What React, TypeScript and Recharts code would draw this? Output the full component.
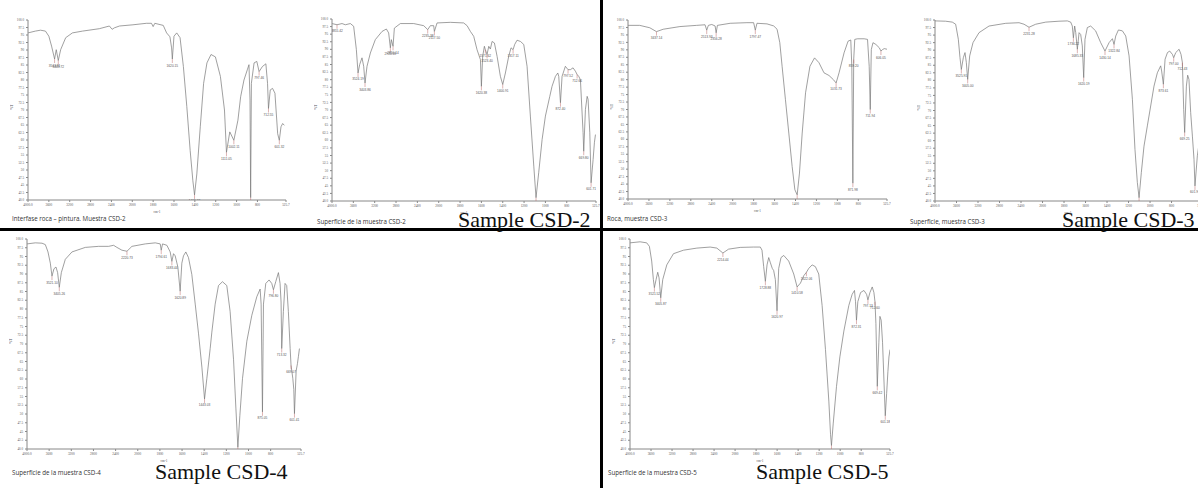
import React from 'react';
import { ComposedChart, Line, Scatter, XAxis, YAxis } from 'recharts';

// ---- axis ticks ----
const xTickWn = [4000, 3600, 3200, 2800, 2400, 2000, 1800, 1600, 1400, 1200, 1000, 800, 526];
const xTickLabels = ['4000.0', '3600', '3200', '2800', '2400', '2000', '1800', '1600', '1400', '1200', '1000', '800', '525.7'];
const yTicks = [40, 42.5, 45, 47.5, 50, 52.5, 55, 57.5, 60, 62.5, 65, 67.5, 70, 72.5, 75, 77.5, 80, 82.5, 85, 87.5, 90, 92.5, 95, 97.5, 100];

// ---- Panel 1: Interfase roca - pintura, CSD-2 ----
const p1Wn = [4000, 3858, 3760, 3665, 3600, 3548, 3490, 3458, 3419, 3374, 3277, 3148, 2955, 2632, 2439, 2387, 2342, 2245, 1994, 1865, 1816, 1800, 1784, 1703, 1671, 1639, 1623, 1616, 1600, 1574, 1542, 1510, 1477, 1445, 1419, 1403, 1381, 1348, 1316, 1284, 1245, 1203, 1155, 1116, 1097, 1065, 1026, 987, 961, 929, 897, 881, 871, 865, 858, 832, 806, 784, 752, 719, 703, 694, 677, 655, 632, 606, 590, 574, 558, 542];
const p1T = [95.7, 96.3, 96.6, 96.3, 94.6, 91.3, 87.0, 90.1, 86.5, 90.1, 94.1, 95.7, 96.3, 97.1, 98.0, 96.9, 97.4, 98.0, 98.4, 98.9, 98.9, 97.8, 98.9, 98.2, 95.7, 94.4, 90.7, 87.0, 94.6, 95.7, 94.1, 84.5, 71.1, 56.5, 46.4, 41.7, 48.7, 64.4, 78.9, 85.7, 88.5, 87.7, 81.2, 70.0, 55.9, 62.7, 59.9, 66.6, 74.4, 80.0, 83.4, 85.1, 73.3, 40.8, 78.9, 85.7, 86.2, 82.8, 84.5, 85.4, 78.9, 70.5, 76.7, 77.2, 75.6, 62.1, 59.9, 64.4, 65.5, 64.9];
const p1PeakWn = [3490, 3419, 1616, 1403, 1097, 1026, 865, 784, 694, 590];
const p1PeakT = [87.0, 86.5, 87.0, 41.7, 55.9, 59.9, 40.8, 82.8, 70.5, 59.9];
const p1PeakLabels = ['3543.81', '3403.72', '1620.15', '1409.92', '1111.05', '1002.11', '872.79', '797.46', '712.55', '601.32'];

// ---- Panel 2: Superficie CSD-2 ----
const p2Wn = [4000, 3906, 3812, 3750, 3656, 3594, 3544, 3512, 3481, 3438, 3406, 3381, 3344, 3281, 3188, 3062, 2981, 2938, 2906, 2888, 2856, 2831, 2719, 2469, 2281, 2206, 2156, 2094, 2081, 2031, 1891, 1766, 1734, 1703, 1672, 1641, 1609, 1600, 1588, 1572, 1563, 1547, 1531, 1516, 1500, 1478, 1453, 1422, 1400, 1375, 1344, 1322, 1303, 1288, 1266, 1234, 1203, 1172, 1141, 1109, 1088, 1063, 1031, 1000, 959, 938, 906, 884, 875, 859, 844, 813, 788, 766, 741, 719, 703, 688, 672, 647, 641, 625, 609, 600, 584, 572, 553, 541, 531];
const p2T = [98.5, 98.1, 98.5, 98.1, 98.5, 97.6, 90.0, 82.2, 85.0, 87.2, 84.4, 78.9, 84.4, 88.8, 93.2, 95.9, 96.7, 95.4, 90.5, 93.2, 91.0, 97.0, 98.5, 98.5, 97.8, 96.5, 97.8, 97.8, 95.9, 98.7, 98.9, 98.7, 97.8, 95.9, 94.3, 89.9, 86.6, 77.8, 87.7, 91.0, 89.9, 88.3, 91.0, 90.1, 92.6, 92.1, 87.7, 81.1, 78.4, 82.2, 87.7, 90.5, 89.9, 91.6, 93.0, 92.6, 91.6, 84.4, 68.0, 51.5, 41.1, 49.3, 60.3, 68.0, 74.5, 77.8, 81.1, 82.2, 81.1, 72.4, 81.1, 84.4, 83.3, 83.3, 83.9, 82.8, 81.7, 81.1, 80.0, 62.5, 56.4, 70.2, 74.5, 73.5, 62.5, 46.0, 53.7, 59.2, 61.9];
const p2PeakWn = [3906, 3512, 3381, 2906, 2856, 2206, 2081, 1600, 1563, 1547, 1400, 1303, 1088, 859, 788, 703, 641, 572];
const p2PeakT = [98.1, 82.2, 78.9, 90.5, 91.0, 96.5, 95.9, 77.8, 89.9, 88.3, 78.4, 89.9, 41.1, 72.4, 83.3, 81.7, 56.4, 46.0];
const p2PeakLabels = ['3855.42', '3524.19', '3403.86', '2920.18', '2850.14', '2235.38', '2117.50', '1620.38', '1571.62', '1523.40', '1400.91', '1317.11', '1108.57', '872.40', '797.52', '712.66', '669.80', '601.71'];

// ---- Panel 3: Roca CSD-3 ----
const p3Wn = [4000, 3776, 3584, 3456, 3328, 3008, 2688, 2528, 2496, 2464, 2400, 2336, 2316, 2292, 2048, 1864, 1800, 1784, 1768, 1672, 1608, 1576, 1550, 1528, 1496, 1464, 1432, 1406, 1384, 1362, 1336, 1304, 1262, 1218, 1176, 1128, 1080, 1038, 1012, 984, 936, 898, 872, 862, 852, 844, 834, 808, 744, 712, 696, 686, 676, 660, 632, 600, 584, 568, 552, 526];
const p3T = [98.2, 98.2, 97.4, 96.1, 96.9, 97.8, 98.2, 98.4, 96.6, 98.2, 98.5, 98.0, 95.7, 98.2, 98.9, 99.1, 99.1, 96.6, 98.9, 98.7, 98.0, 96.9, 92.4, 84.5, 73.3, 62.1, 50.9, 43.1, 41.4, 48.7, 62.1, 75.6, 84.5, 87.3, 85.7, 82.3, 81.4, 80.0, 78.9, 82.3, 89.0, 92.9, 93.3, 84.5, 45.3, 86.8, 93.5, 93.7, 93.7, 93.5, 84.5, 70.0, 90.1, 92.4, 91.8, 90.7, 89.6, 90.1, 90.4, 90.2];
const p3PeakWn = [3456, 2496, 2316, 1784, 1384, 1012, 852, 844, 686, 584];
const p3PeakT = [96.1, 96.6, 95.7, 96.6, 41.4, 78.9, 45.3, 86.8, 70.0, 89.6];
const p3PeakLabels = ['3437.14', '2513.93', '2356.28', '1797.47', '1392.51', '1031.73', '871.98', '859.20', '711.94', '606.05'];

// ---- Panel 4: Superficie CSD-3 ----
const p4Wn = [4000, 3802, 3678, 3616, 3566, 3535, 3510, 3473, 3442, 3417, 3392, 3355, 3293, 3181, 2995, 2685, 2437, 2344, 2251, 2127, 1970, 1847, 1769, 1738, 1723, 1713, 1701, 1691, 1676, 1660, 1645, 1630, 1617, 1605, 1583, 1552, 1506, 1459, 1419, 1381, 1350, 1335, 1319, 1294, 1257, 1226, 1195, 1164, 1140, 1118, 1102, 1081, 1056, 1025, 994, 963, 932, 901, 892, 876, 860, 838, 817, 792, 780, 761, 730, 712, 699, 687, 678, 662, 650, 638, 622, 606, 591, 582, 560, 540, 526];
const p4T = [99.7, 99.6, 99.3, 98.6, 93.6, 87.5, 83.6, 87.5, 89.2, 85.9, 80.3, 88.1, 92.5, 95.8, 98.0, 98.9, 99.1, 98.6, 97.6, 98.6, 99.3, 99.6, 99.7, 99.3, 98.0, 94.1, 98.0, 95.8, 90.3, 95.8, 95.2, 91.4, 80.9, 93.6, 97.5, 98.0, 96.4, 92.5, 89.7, 92.5, 93.8, 91.9, 94.7, 96.7, 96.4, 94.7, 88.1, 73.7, 57.1, 46.1, 41.1, 49.4, 58.2, 64.9, 71.5, 78.1, 82.5, 84.8, 83.1, 78.7, 87.0, 89.2, 89.7, 88.6, 87.5, 89.2, 90.3, 88.6, 85.9, 70.4, 62.7, 78.1, 81.7, 80.3, 69.3, 61.5, 53.8, 45.0, 55.0, 60.0, 62.0];
const p4PeakWn = [3510, 3392, 2251, 1713, 1676, 1617, 1419, 1335, 1102, 876, 780, 699, 678, 582];
const p4PeakT = [83.6, 80.3, 97.6, 94.1, 90.3, 80.9, 89.7, 91.9, 41.1, 78.7, 87.5, 85.9, 62.7, 45.0];
const p4PeakLabels = ['3525.91', '3405.00', '2231.28', '1736.22', '1685.33', '1620.19', '1430.14', '1322.84', '1107.07', '873.61', '797.00', '712.43', '669.25', '601.90'];

// ---- Panel 5: Superficie CSD-4 ----
const p5Wn = [4000, 3850, 3729, 3669, 3621, 3579, 3549, 3513, 3477, 3447, 3417, 3380, 3308, 3188, 2947, 2707, 2526, 2436, 2376, 2286, 2195, 2105, 1932, 1842, 1797, 1788, 1776, 1737, 1707, 1692, 1677, 1662, 1638, 1617, 1602, 1587, 1566, 1542, 1512, 1481, 1451, 1421, 1397, 1376, 1346, 1331, 1301, 1271, 1235, 1196, 1166, 1135, 1114, 1096, 1078, 1054, 1015, 970, 925, 895, 886, 874, 865, 844, 814, 790, 775, 754, 730, 715, 706, 700, 685, 670, 655, 640, 624, 616, 600, 591, 585, 570, 558, 549, 540];
const p5T = [98.6, 98.9, 98.8, 98.4, 96.3, 93.1, 89.4, 91.5, 92.0, 90.4, 86.2, 90.4, 94.2, 96.3, 97.6, 97.9, 97.9, 98.2, 97.6, 96.8, 96.5, 97.9, 98.6, 98.9, 98.6, 96.8, 98.6, 98.2, 96.3, 93.6, 95.8, 95.2, 92.0, 85.1, 93.1, 95.2, 96.3, 94.7, 89.9, 81.4, 72.9, 63.4, 54.3, 60.2, 68.7, 73.4, 81.4, 86.7, 87.8, 86.7, 79.3, 65.5, 51.7, 40.5, 49.6, 60.2, 70.8, 78.2, 83.5, 85.7, 81.4, 50.6, 81.4, 87.3, 88.3, 87.3, 85.5, 87.8, 90.4, 87.3, 82.0, 68.7, 79.3, 87.3, 86.7, 79.3, 68.7, 63.9, 60.2, 57.0, 50.1, 62.3, 64.4, 66.5, 68.7];
const p5PeakWn = [3549, 3417, 2195, 1788, 1692, 1617, 1397, 1096, 874, 775, 700, 616, 585];
const p5PeakT = [89.4, 86.2, 96.5, 96.8, 93.6, 85.1, 54.3, 40.5, 50.6, 85.5, 68.7, 63.9, 50.1];
const p5PeakLabels = ['3521.10', '3405.26', '2220.73', '1794.61', '1683.44', '1620.89', '1443.03', '1119.27', '875.05', '796.80', '713.32', '669.07', '601.41'];

// ---- Panel 6: Superficie CSD-5 ----
const p6Wn = [4000, 3809, 3682, 3631, 3587, 3555, 3536, 3504, 3472, 3447, 3415, 3377, 3300, 3173, 2982, 2728, 2474, 2347, 2232, 2124, 1951, 1824, 1760, 1744, 1728, 1712, 1696, 1680, 1664, 1646, 1633, 1617, 1601, 1585, 1563, 1537, 1490, 1442, 1410, 1378, 1347, 1321, 1299, 1267, 1236, 1204, 1172, 1140, 1108, 1092, 1083, 1066, 1035, 1003, 965, 918, 886, 864, 854, 845, 832, 806, 774, 749, 736, 717, 695, 679, 669, 660, 647, 632, 622, 610, 597, 584, 571, 558, 546, 536, 526];
const p6T = [98.9, 99.2, 98.9, 97.9, 93.7, 88.4, 86.1, 88.4, 90.5, 88.9, 83.2, 88.4, 92.6, 95.8, 96.8, 97.4, 97.7, 97.4, 96.0, 97.1, 97.6, 97.7, 97.7, 96.8, 92.1, 87.9, 92.6, 94.7, 93.2, 91.6, 91.0, 88.4, 79.5, 91.6, 94.7, 95.3, 93.7, 90.0, 86.3, 87.4, 89.5, 90.5, 91.6, 92.6, 92.1, 90.0, 81.0, 68.4, 53.7, 44.2, 41.0, 47.4, 57.9, 66.3, 73.7, 81.0, 84.2, 85.3, 82.1, 76.8, 82.1, 84.7, 85.3, 84.2, 82.6, 84.7, 86.3, 84.7, 82.1, 75.8, 57.9, 70.5, 77.9, 76.8, 70.5, 60.0, 49.5, 55.8, 62.1, 66.3, 68.4];
const p6PeakWn = [3536, 3415, 2232, 1712, 1601, 1410, 1321, 1083, 845, 736, 669, 647, 571];
const p6PeakT = [86.1, 83.2, 96.0, 87.9, 79.5, 86.3, 90.5, 41.0, 76.8, 82.6, 82.1, 57.9, 49.5];
const p6PeakLabels = ['3521.52', '3405.87', '2214.44', '1728.88', '1620.97', '1410.58', '1322.06', '1109.75', '872.31', '797.13', '712.60', '669.42', '601.18'];

const wnToPos = (wn: number) => (wn >= 2000 ? (4000 - wn) / 400 : 5 + (2000 - wn) / 200);
const xTicks = xTickWn.map(wnToPos);
const xEnd = wnToPos(526);

const PeakMark = (props: any) => {
  const { cx, cy, payload } = props;
  if (cx == null || cy == null) return null;
  return (
    <g>
      <line x1={cx} y1={cy} x2={cx} y2={cy + 4} stroke="#b66" strokeWidth={0.5} />
      <text x={cx} y={cy + 7.5} fontSize={3.2} textAnchor="middle" fill="#555" fontFamily="Liberation Sans, sans-serif">
        {payload.label}
      </text>
    </g>
  );
};

type PanelProps = {
  left: number; top: number; w: number; h: number;
  wn: number[]; t: number[]; peakWn: number[]; peakT: number[]; peakLabels: string[];
};

const YW = 18;
const MT = 4;
const XH = 14;

function Panel({ left, top, w, h, wn, t, peakWn, peakT, peakLabels }: PanelProps) {
  const rows = wn.map((v, i) => ({ x: wnToPos(v), t: t[i] }));
  const peaks = peakWn.map((v, i) => ({ x: wnToPos(v), t: peakT[i], label: peakLabels[i] }));
  const fmtX = (v: number) => {
    const i = xTicks.findIndex((p) => Math.abs(p - v) < 1e-6);
    return i >= 0 ? xTickLabels[i] : '';
  };
  const fmtY = (v: number) => (v === 100 || v === 40 ? v.toFixed(1) : String(v));
  return (
    <div style={{ position: 'absolute', left: left - YW, top: top - MT }}>
      <ComposedChart width={YW + w + 4} height={MT + h + XH} data={rows} margin={{ top: MT, right: 4, bottom: 0, left: 0 }}>
        <XAxis
          type="number" dataKey="x" domain={[0, xEnd]} ticks={xTicks} interval={0} allowDataOverflow
          tickFormatter={fmtX} tick={{ fontSize: 3.4, fill: '#555' }} tickSize={2} stroke="#888" height={XH}
          label={{ value: 'cm-1', position: 'insideBottom', offset: 1, fontSize: 3.4, fill: '#555' }}
        />
        <YAxis
          type="number" dataKey="t" domain={[40, 100]} ticks={yTicks} interval={0} allowDataOverflow width={YW}
          tickFormatter={fmtY} tick={{ fontSize: 3.2, fill: '#555' }} tickSize={2} stroke="#888"
          label={{ value: '%T', angle: -90, position: 'insideLeft', offset: 2, fontSize: 4, fill: '#555' }}
        />
        <Line dataKey="t" type="linear" stroke="#777" strokeWidth={0.7} dot={false} isAnimationActive={false} />
        <Scatter data={peaks} dataKey="t" shape={PeakMark} isAnimationActive={false} />
      </ComposedChart>
    </div>
  );
}

const caption: React.CSSProperties = {
  position: 'absolute', fontFamily: '"Open Sans", "Liberation Sans", sans-serif', fontSize: 6.2, color: '#333', whiteSpace: 'nowrap', lineHeight: 1,
};
const big: React.CSSProperties = {
  position: 'absolute', fontFamily: '"Liberation Serif", serif', fontSize: 22, color: '#111', whiteSpace: 'nowrap', lineHeight: 1,
};

export default function App() {
  return (
    <div style={{ position: 'absolute', left: 0, top: 0, width: 1198, height: 488, background: '#fff', overflow: 'hidden' }}>
      <Panel left={28} top={20} w={258} h={180} wn={p1Wn} t={p1T} peakWn={p1PeakWn} peakT={p1PeakT} peakLabels={p1PeakLabels} />
      <Panel left={332} top={19} w={264} h={182} wn={p2Wn} t={p2T} peakWn={p2PeakWn} peakT={p2PeakT} peakLabels={p2PeakLabels} />
      <Panel left={628} top={20} w={259} h={179} wn={p3Wn} t={p3T} peakWn={p3PeakWn} peakT={p3PeakT} peakLabels={p3PeakLabels} />
      <Panel left={935} top={20} w={266} h={181} wn={p4Wn} t={p4T} peakWn={p4PeakWn} peakT={p4PeakT} peakLabels={p4PeakLabels} />
      <Panel left={27} top={239} w={274} h={210} wn={p5Wn} t={p5T} peakWn={p5PeakWn} peakT={p5PeakT} peakLabels={p5PeakLabels} />
      <Panel left={630} top={239} w={260} h={210} wn={p6Wn} t={p6T} peakWn={p6PeakWn} peakT={p6PeakT} peakLabels={p6PeakLabels} />

      <div style={{ position: 'absolute', left: 0, top: 228, width: 1198, height: 3, background: '#000' }} />
      <div style={{ position: 'absolute', left: 600, top: 0, width: 3, height: 488, background: '#000' }} />

      <div style={{ ...caption, left: 12, top: 216 }}>Interfase roca – pintura. Muestra CSD-2</div>
      <div style={{ ...caption, left: 317, top: 219 }}>Superficie de la muestra CSD-2</div>
      <div style={{ ...caption, left: 607, top: 216 }}>Roca, muestra CSD-3</div>
      <div style={{ ...caption, left: 910, top: 219 }}>Superficie, muestra CSD-3</div>
      <div style={{ ...caption, left: 12, top: 470 }}>Superficie de la muestra CSD-4</div>
      <div style={{ ...caption, left: 608, top: 470 }}>Superficie de la muestra CSD-5</div>

      <div style={{ ...big, left: 458, top: 209 }}>Sample CSD-2</div>
      <div style={{ ...big, left: 1062, top: 209 }}>Sample CSD-3</div>
      <div style={{ ...big, left: 155, top: 461 }}>Sample CSD-4</div>
      <div style={{ ...big, left: 756, top: 461 }}>Sample CSD-5</div>
    </div>
  );
}
